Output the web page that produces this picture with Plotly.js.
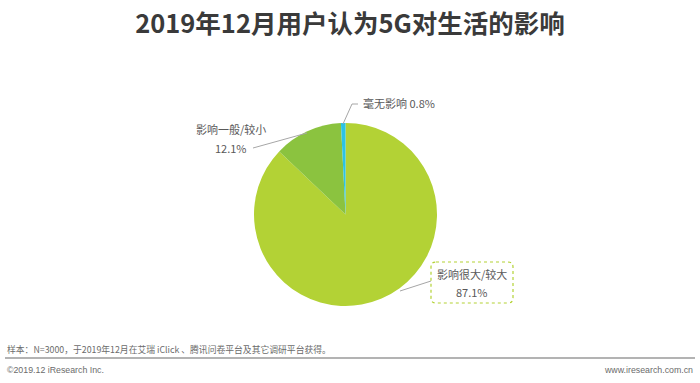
<!DOCTYPE html>
<html><head><meta charset="utf-8">
<script src="https://cdn.plot.ly/plotly-3.0.1.min.js"></script>
<style>html,body{margin:0;padding:0;background:#fff;}#chart{width:700px;height:383px;}</style>
</head><body><div id="chart"></div>
<script>
const categories = ['影响很大/较大', '影响一般/较小', '毫无影响'];
const values = [87.1, 12.1, 0.8];
const colors = ['#b3d235', '#8bc33f', '#2bc3e6'];
const titleText = '2019年12月用户认为5G对生活的影响';
const noteText = '样本：N=3000，于2019年12月在艾瑞 iClick 、腾讯问卷平台及其它调研平台获得。';
const copyrightText = '©2019.12 iResearch Inc.';
const siteText = 'www.iresearch.com.cn';

const W = 700, H = 383;
const px = x => x / W, py = y => 1 - y / H;
const cx = 345.5, cy = 214.5, r = 91.5;
const font = '"Noto Sans CJK SC", "Noto Sans", sans-serif';

const data = [{
  type: 'pie', labels: categories, values: values, sort: false,
  direction: 'clockwise', rotation: 0,
  marker: {colors: colors, line: {width: 0}},
  textinfo: 'none', hoverinfo: 'label+percent', showlegend: false,
  domain: {x: [px(cx - r), px(cx + r)], y: [py(cy + r), py(cy - r)]}
}];

const fmt = v => v.toFixed(1) + '%';
const grey = '#a6a6a6';
const layout = {
  width: W, height: H, margin: {l: 0, r: 0, t: 0, b: 0},
  paper_bgcolor: '#ffffff', plot_bgcolor: '#ffffff',
  font: {family: font},
  title: {text: '<b>' + titleText + '</b>', x: 0.5, xanchor: 'center', y: py(24), yanchor: 'middle', font: {size: 25.5, color: '#3a3a3a', family: font}},
  shapes: [
    {type: 'line', xref: 'paper', yref: 'paper', x0: px(343), y0: py(124), x1: px(352), y1: py(104), line: {color: grey, width: 1}},
    {type: 'line', xref: 'paper', yref: 'paper', x0: px(352), y0: py(104), x1: px(358), y1: py(104), line: {color: grey, width: 1}},
    {type: 'line', xref: 'paper', yref: 'paper', x0: px(253), y0: py(148), x1: px(307), y1: py(133), line: {color: grey, width: 1}},
    {type: 'line', xref: 'paper', yref: 'paper', x0: px(400), y0: py(291), x1: px(431), y1: py(281), line: {color: grey, width: 1}},
    {type: 'path', xref: 'paper', yref: 'paper',
     path: 'M ' + px(436) + ' ' + py(262) + ' L ' + px(508) + ' ' + py(262) + ' Q ' + px(513) + ' ' + py(262) + ' ' + px(513) + ' ' + py(267) +
           ' L ' + px(513) + ' ' + py(298) + ' Q ' + px(513) + ' ' + py(303) + ' ' + px(508) + ' ' + py(303) +
           ' L ' + px(436) + ' ' + py(303) + ' Q ' + px(431) + ' ' + py(303) + ' ' + px(431) + ' ' + py(298) +
           ' L ' + px(431) + ' ' + py(267) + ' Q ' + px(431) + ' ' + py(262) + ' ' + px(436) + ' ' + py(262) + ' Z',
     line: {color: '#b3d235', width: 1.2, dash: 'dot'}},
    {type: 'line', xref: 'paper', yref: 'paper', x0: px(5), y0: py(358), x1: px(695), y1: py(358), line: {color: '#9a9a9a', width: 1.5}}
  ],
  annotations: [
    {xref: 'paper', yref: 'paper', x: px(361), y: py(103), xanchor: 'left', yanchor: 'middle', showarrow: false,
     text: categories[2] + ' ' + fmt(values[2]), font: {size: 11, color: '#595959'}},
    {xref: 'paper', yref: 'paper', x: px(231), y: py(129), xanchor: 'center', yanchor: 'middle', showarrow: false,
     text: categories[1], font: {size: 11, color: '#595959'}},
    {xref: 'paper', yref: 'paper', x: px(231), y: py(148), xanchor: 'center', yanchor: 'middle', showarrow: false,
     text: fmt(values[1]), font: {size: 11, color: '#595959'}},
    {xref: 'paper', yref: 'paper', x: px(472), y: py(274), xanchor: 'center', yanchor: 'middle', showarrow: false,
     text: categories[0], font: {size: 11, color: '#595959'}},
    {xref: 'paper', yref: 'paper', x: px(472), y: py(292), xanchor: 'center', yanchor: 'middle', showarrow: false,
     text: fmt(values[0]), font: {size: 11, color: '#595959'}},
    {xref: 'paper', yref: 'paper', x: px(5), y: py(349), xanchor: 'left', yanchor: 'middle', showarrow: false,
     text: noteText, font: {size: 8.8, color: '#6b6b6b'}},
    {xref: 'paper', yref: 'paper', x: px(5), y: py(370), xanchor: 'left', yanchor: 'middle', showarrow: false,
     text: copyrightText, font: {size: 8.8, color: '#6b6b6b', family: 'Liberation Sans, Arial, sans-serif'}},
    {xref: 'paper', yref: 'paper', x: px(695), y: py(370), xanchor: 'right', yanchor: 'middle', showarrow: false,
     text: siteText, font: {size: 8.8, color: '#6b6b6b', family: 'Liberation Sans, Arial, sans-serif'}}
  ]
};
Plotly.newPlot('chart', data, layout, {displayModeBar: false, staticPlot: true});
</script></body></html>
